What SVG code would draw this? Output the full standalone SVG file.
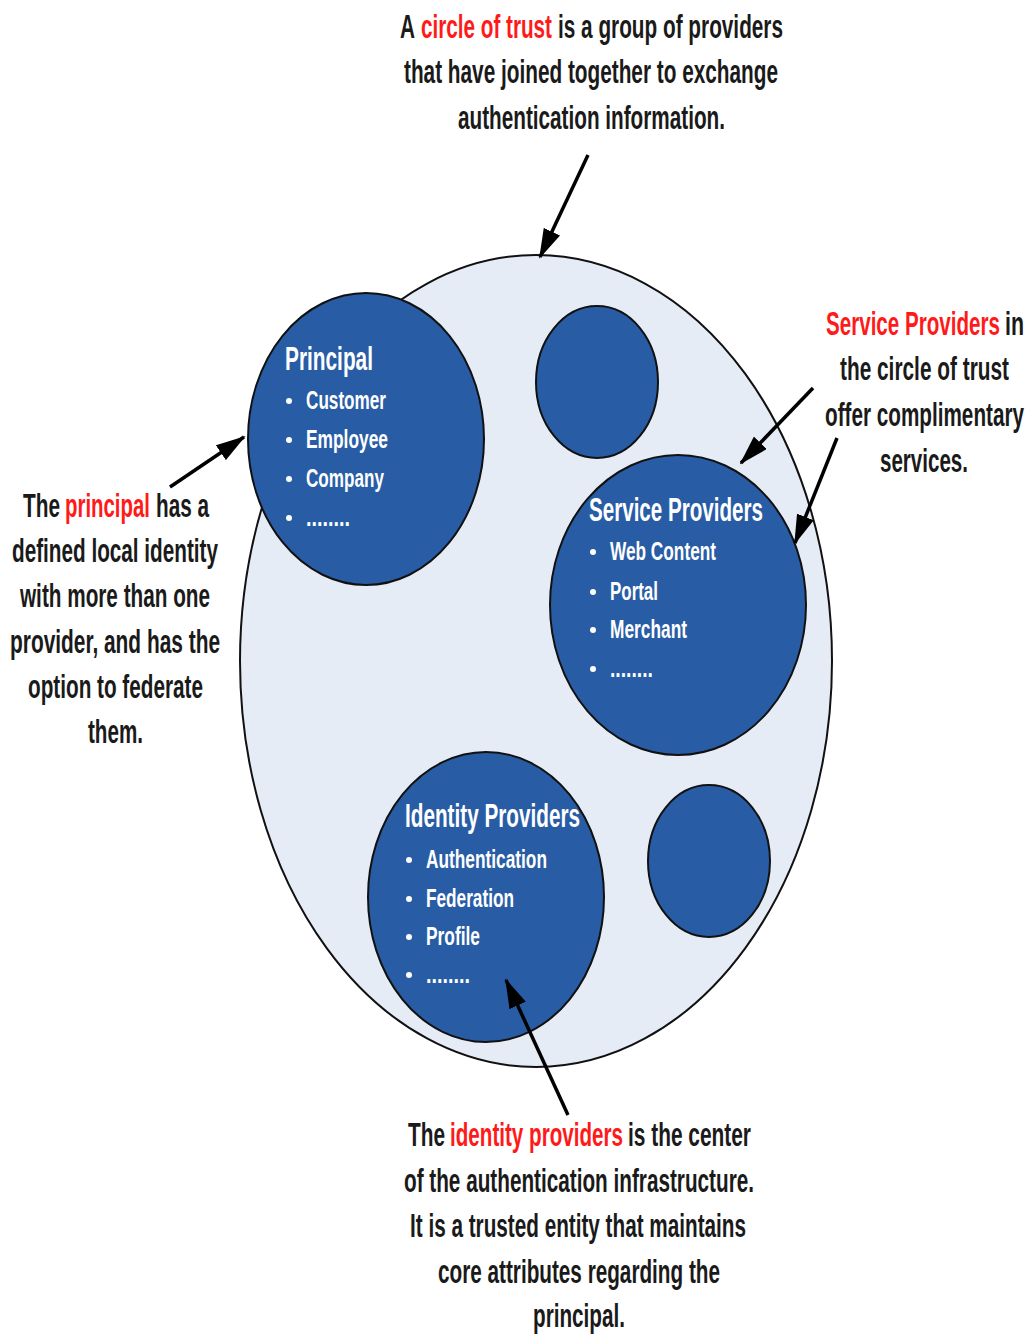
<svg xmlns="http://www.w3.org/2000/svg" width="1032" height="1335" viewBox="0 0 1032 1335">
  <style>
    .note { font-family: "Liberation Sans", Arial, sans-serif; font-weight: bold; font-size: 34px; fill: #1a1a1a; }
    .red { fill: #ff1a1a; }
    .title { font-family: "Liberation Sans", Arial, sans-serif; font-weight: bold; font-size: 33px; fill: #ffffff; }
    .item { font-family: "Liberation Sans", Arial, sans-serif; font-weight: bold; font-size: 26px; fill: #ffffff; }
    .blob { fill: #285da5; stroke: #111; stroke-width: 2; }
    .bullet { fill: #ffffff; }
    .arrow { stroke: #000; stroke-width: 3.5; fill: none; marker-end: url(#head); }
  </style>
  <defs>
    <marker id="head" viewBox="0 0 30 18" refX="28" refY="9" markerWidth="30" markerHeight="18" markerUnits="userSpaceOnUse" orient="auto">
      <path d="M0,0 L30,9 L0,18 Z" fill="#000"/>
    </marker>
  </defs>

  <rect width="1032" height="1335" fill="#ffffff"/>

  <!-- circle of trust -->
  <g id="circle-of-trust">
    <ellipse cx="536" cy="661" rx="296" ry="406" fill="#e6ecf6" stroke="#111" stroke-width="2"/>
  </g>

  <!-- Principal -->
  <g id="principal">
    <ellipse class="blob" cx="366" cy="439" rx="118" ry="146"/>
    <text class="title" x="285" y="370" textLength="88" lengthAdjust="spacingAndGlyphs">Principal</text>
    <circle class="bullet" cx="289" cy="401" r="3"/>
    <text class="item" x="306" y="409" textLength="80" lengthAdjust="spacingAndGlyphs">Customer</text>
    <circle class="bullet" cx="289" cy="440" r="3"/>
    <text class="item" x="306" y="448" textLength="82" lengthAdjust="spacingAndGlyphs">Employee</text>
    <circle class="bullet" cx="289" cy="479" r="3"/>
    <text class="item" x="306" y="487" textLength="78" lengthAdjust="spacingAndGlyphs">Company</text>
    <circle class="bullet" cx="289" cy="518" r="3"/>
    <text class="item" x="306" y="526" textLength="44" lengthAdjust="spacingAndGlyphs">........</text>
  </g>

  <!-- unnamed provider, top -->
  <g id="provider-a">
    <ellipse class="blob" cx="597" cy="382" rx="61" ry="76"/>
  </g>

  <!-- Service Providers -->
  <g id="service-providers">
    <ellipse class="blob" cx="678" cy="605" rx="128" ry="150"/>
    <text class="title" x="589" y="521" textLength="174" lengthAdjust="spacingAndGlyphs">Service Providers</text>
    <circle class="bullet" cx="593" cy="552" r="3"/>
    <text class="item" x="610" y="560" textLength="106" lengthAdjust="spacingAndGlyphs">Web Content</text>
    <circle class="bullet" cx="593" cy="592" r="3"/>
    <text class="item" x="610" y="600" textLength="48" lengthAdjust="spacingAndGlyphs">Portal</text>
    <circle class="bullet" cx="593" cy="630" r="3"/>
    <text class="item" x="610" y="638" textLength="77" lengthAdjust="spacingAndGlyphs">Merchant</text>
    <circle class="bullet" cx="593" cy="669" r="3"/>
    <text class="item" x="610" y="677" textLength="43" lengthAdjust="spacingAndGlyphs">........</text>
  </g>

  <!-- Identity Providers -->
  <g id="identity-providers">
    <ellipse class="blob" cx="486" cy="897" rx="118" ry="145"/>
    <text class="title" x="405" y="827" textLength="175" lengthAdjust="spacingAndGlyphs">Identity Providers</text>
    <circle class="bullet" cx="409" cy="860" r="3"/>
    <text class="item" x="426" y="868" textLength="121" lengthAdjust="spacingAndGlyphs">Authentication</text>
    <circle class="bullet" cx="409" cy="899" r="3"/>
    <text class="item" x="426" y="907" textLength="88" lengthAdjust="spacingAndGlyphs">Federation</text>
    <circle class="bullet" cx="409" cy="937" r="3"/>
    <text class="item" x="426" y="945" textLength="54" lengthAdjust="spacingAndGlyphs">Profile</text>
    <circle class="bullet" cx="409" cy="975" r="3"/>
    <text class="item" x="426" y="983" textLength="44" lengthAdjust="spacingAndGlyphs">........</text>
  </g>

  <!-- unnamed provider, lower right -->
  <g id="provider-b">
    <ellipse class="blob" cx="709" cy="861" rx="61" ry="76"/>
  </g>

  <!-- callout arrows -->
  <g id="connectors">
    <line class="arrow" x1="588" y1="155" x2="540" y2="257"/>
    <line class="arrow" x1="170" y1="487" x2="244" y2="437"/>
    <line class="arrow" x1="813" y1="388" x2="741" y2="463"/>
    <line class="arrow" x1="837" y1="438" x2="795" y2="543"/>
    <line class="arrow" x1="568" y1="1115" x2="506" y2="980"/>
  </g>

  <!-- annotation: circle of trust -->
  <g id="note-circle">
    <text class="note" x="400" y="38" textLength="15" lengthAdjust="spacingAndGlyphs">A</text>
    <text class="note red" x="421" y="38" textLength="131" lengthAdjust="spacingAndGlyphs">circle of trust</text>
    <text class="note" x="558" y="38" textLength="225" lengthAdjust="spacingAndGlyphs">is a group of providers</text>
    <text class="note" x="404" y="83" textLength="374" lengthAdjust="spacingAndGlyphs">that have joined together to exchange</text>
    <text class="note" x="458" y="129" textLength="267" lengthAdjust="spacingAndGlyphs">authentication information.</text>
  </g>

  <!-- annotation: principal -->
  <g id="note-principal">
    <text class="note" x="23" y="517" textLength="37" lengthAdjust="spacingAndGlyphs">The</text>
    <text class="note red" x="65" y="517" textLength="85" lengthAdjust="spacingAndGlyphs">principal</text>
    <text class="note" x="156" y="517" textLength="53" lengthAdjust="spacingAndGlyphs">has a</text>
    <text class="note" x="12" y="562" textLength="206" lengthAdjust="spacingAndGlyphs">defined local identity</text>
    <text class="note" x="20" y="607" textLength="190" lengthAdjust="spacingAndGlyphs">with more than one</text>
    <text class="note" x="10" y="653" textLength="210" lengthAdjust="spacingAndGlyphs">provider, and has the</text>
    <text class="note" x="28" y="698" textLength="175" lengthAdjust="spacingAndGlyphs">option to federate</text>
    <text class="note" x="88" y="743" textLength="55" lengthAdjust="spacingAndGlyphs">them.</text>
  </g>

  <!-- annotation: service providers -->
  <g id="note-service">
    <text class="note red" x="826" y="335" textLength="174" lengthAdjust="spacingAndGlyphs">Service Providers</text>
    <text class="note" x="1005" y="335" textLength="19" lengthAdjust="spacingAndGlyphs">in</text>
    <text class="note" x="840" y="380" textLength="169" lengthAdjust="spacingAndGlyphs">the circle of trust</text>
    <text class="note" x="825" y="426" textLength="199" lengthAdjust="spacingAndGlyphs">offer complimentary</text>
    <text class="note" x="880" y="472" textLength="88" lengthAdjust="spacingAndGlyphs">services.</text>
  </g>

  <!-- annotation: identity providers -->
  <g id="note-identity">
    <text class="note" x="408" y="1146" textLength="37" lengthAdjust="spacingAndGlyphs">The</text>
    <text class="note red" x="450" y="1146" textLength="173" lengthAdjust="spacingAndGlyphs">identity providers</text>
    <text class="note" x="628" y="1146" textLength="123" lengthAdjust="spacingAndGlyphs">is the center</text>
    <text class="note" x="404" y="1192" textLength="350" lengthAdjust="spacingAndGlyphs">of the authentication infrastructure.</text>
    <text class="note" x="410" y="1237" textLength="336" lengthAdjust="spacingAndGlyphs">It is a trusted entity that maintains</text>
    <text class="note" x="438" y="1283" textLength="282" lengthAdjust="spacingAndGlyphs">core attributes regarding the</text>
    <text class="note" x="533" y="1327" textLength="92" lengthAdjust="spacingAndGlyphs">principal.</text>
  </g>
</svg>
